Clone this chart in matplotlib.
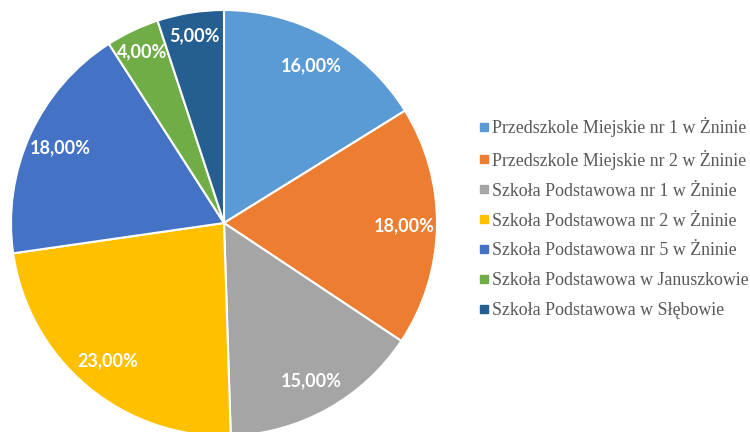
import matplotlib
matplotlib.use("Agg")
import matplotlib.pyplot as plt
from matplotlib.lines import Line2D
import numpy as np

# ============================================================
# DATA
# ============================================================

schools = [
    "Przedszkole Miejskie nr 1 w Żninie",
    "Przedszkole Miejskie nr 2 w Żninie",
    "Szkoła Podstawowa nr 1 w Żninie",
    "Szkoła Podstawowa nr 2 w Żninie",
    "Szkoła Podstawowa nr 5 w Żninie",
    "Szkoła Podstawowa w Januszkowie",
    "Szkoła Podstawowa w Słębowie",
]
shares = [16, 18, 15, 23, 18, 4, 5]
colors = ["#5B9BD5", "#ED7D31", "#A5A5A5", "#FFC000", "#4472C4", "#70AD47", "#255E91"]

# ============================================================
# FIGURE
# ============================================================

W, H = 750, 432
fig = plt.figure(figsize=(W / 100, H / 100), dpi=100)

cx, cy, r = 224, 223, 213
ax = fig.add_axes([(cx - r) / W, (H - cy - r) / H, 2 * r / W, 2 * r / H])

wedges, _ = ax.pie(
    shares,
    colors=colors,
    startangle=90,
    counterclock=False,
    radius=1,
    wedgeprops=dict(edgecolor="white", linewidth=1.5),
)
ax.set_xlim(-1, 1)
ax.set_ylim(-1, 1)
ax.set_aspect("equal")
ax.axis("off")

# percentage labels, small slices pushed a bit further out
for w, v in zip(wedges, shares):
    mid = np.deg2rad((w.theta1 + w.theta2) / 2)
    d = 0.89 if v < 10 else 0.845
    ax.text(d * np.cos(mid), d * np.sin(mid), f"{v:.2f}%".replace(".", ","),
            ha="center", va="center", color="white", fontsize=13,
            fontweight="bold", family="Lato")

handles = [Line2D([0], [0], marker="s", linestyle="none", markersize=5.5,
                  markerfacecolor=c, markeredgecolor=c) for c in colors]
leg = fig.legend(
    handles, schools,
    loc="center left",
    bbox_to_anchor=(462 / W, (H - 218) / H),
    frameon=False,
    handlelength=0.6,
    handletextpad=0.2,
    labelspacing=0.72,
    prop=dict(family="Liberation Serif", size=12.9),
    labelcolor="#595959",
)

fig.savefig("out.png", dpi=100)
